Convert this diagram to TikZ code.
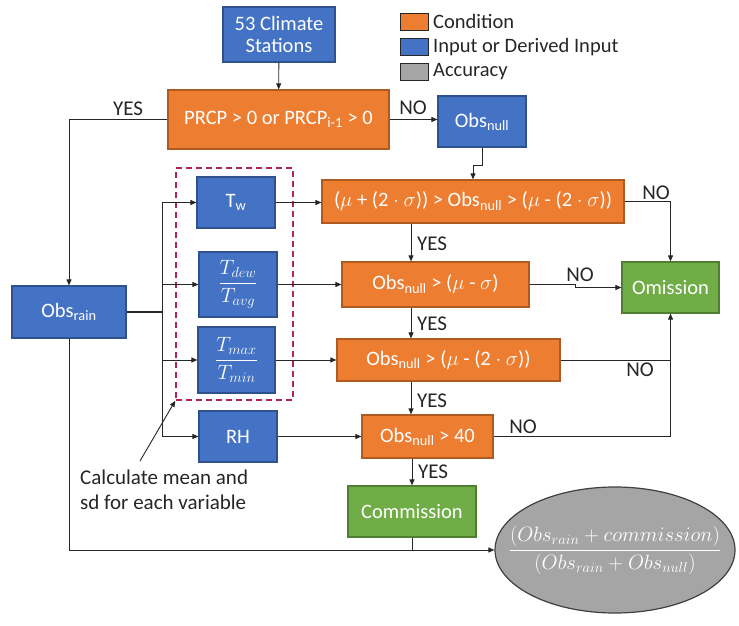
\documentclass[tikz,border=0pt]{standalone}
\usepackage{fontspec}
\setmainfont{Carlito}
\usetikzlibrary{arrows.meta,shapes.geometric}
\definecolor{cOr}{HTML}{ED7D31}
\definecolor{cOrB}{HTML}{AE5A21}
\definecolor{cBl}{HTML}{4472C4}
\definecolor{cBlB}{HTML}{2F528F}
\definecolor{cGr}{HTML}{70AD47}
\definecolor{cGrB}{HTML}{507E32}
\definecolor{cGy}{HTML}{A5A5A5}
\definecolor{cGyB}{HTML}{404040}
\definecolor{cTx}{HTML}{262626}
\definecolor{cDash}{HTML}{B0245A}
\tikzset{
  boxbase/.style={draw, line width=1.2pt, inner sep=0pt, align=center, text=white, font=\fontsize{20.5}{22}\selectfont},
  cond/.style={boxbase, fill=cOr, draw=cOrB},
  inp/.style={boxbase, fill=cBl, draw=cBlB},
  res/.style={boxbase, fill=cGr, draw=cGrB},
  ln/.style={draw=cTx, line width=0.9pt},
  arr/.style={ln, -{Triangle[length=6pt,width=5pt]}},
  lbl/.style={text=cTx, font=\fontsize{21}{24}\selectfont, inner sep=0pt},
}
\begin{document}
\begin{tikzpicture}[x=1pt,y=-1pt]
\useasboundingbox (0,0) rectangle (739,626);
% legend
\node[cond, draw=cTx, line width=0.8pt, minimum width=28pt, minimum height=17pt] (lg1) at (414,21.5) {};
\node[inp, draw=cTx, line width=0.8pt, minimum width=28pt, minimum height=17pt] (lg2) at (414,47) {};
\node[boxbase, fill=cGy, draw=cTx, line width=0.8pt, minimum width=28pt, minimum height=17pt] (lg3) at (414,71.5) {};
\node[lbl, anchor=west, font=\fontsize{20.5}{24}\selectfont] (lt1) at (433,21.5) {Condition};
\node[lbl, anchor=west, font=\fontsize{20.5}{24}\selectfont] (lt2) at (433,47) {Input or Derived Input};
\node[lbl, anchor=west, font=\fontsize{20.5}{24}\selectfont] (lt3) at (433,71.5) {Accuracy};
% nodes
\node[inp, minimum width=112pt, minimum height=55pt] (st) at (279,34.5) {53 Climate\\Stations};
\node[cond, minimum width=221pt, minimum height=59pt] (prcp) at (278.5,119.5) {PRCP > 0 or PRCP\textsubscript{i-1} > 0};
\node[inp, minimum width=88pt, minimum height=51pt] (null) at (482,121.5) {Obs\textsubscript{null}};
\node[cond, minimum width=302pt, minimum height=43pt] (c1) at (473,201.5) {($\mu$ + (2 $\cdot$ $\sigma$)) > Obs\textsubscript{null} > ($\mu$ - (2 $\cdot$ $\sigma$))};
\node[inp, minimum width=78pt, minimum height=51pt] (tw) at (236,202.5) {T\textsubscript{w}};
\node[cond, minimum width=187pt, minimum height=45pt] (c2) at (435.5,284.5) {Obs\textsubscript{null} > ($\mu$ - $\sigma$)};
\node[inp, minimum width=78pt, minimum height=65pt, font=\fontsize{22}{24}\selectfont] (tdew) at (238,284.5) {$\displaystyle\frac{T_{dew}}{T_{avg}}$};
\node[res, minimum width=97pt, minimum height=51pt] (om) at (670.5,287.5) {Omission};
\node[cond, minimum width=223pt, minimum height=42pt] (c3) at (448.5,360) {Obs\textsubscript{null} > ($\mu$ - (2 $\cdot$ $\sigma$))};
\node[inp, minimum width=77pt, minimum height=66pt, font=\fontsize{22}{24}\selectfont] (tmax) at (236.5,360) {$\displaystyle\frac{T_{max}}{T_{min}}$};
\node[cond, minimum width=131pt, minimum height=43pt] (c4) at (427.5,436.5) {Obs\textsubscript{null} > 40};
\node[inp, minimum width=78pt, minimum height=51pt] (rh) at (238,436.5) {RH};
\node[res, minimum width=128pt, minimum height=51pt] (com) at (412,511.5) {Commission};
\node[boxbase, ellipse, fill=cGy, draw=cGyB, minimum width=240pt, minimum height=126pt] (acc) at (615,550) {};
\node[text=white, inner sep=0pt, font=\fontsize{22.5}{24}\selectfont] (acct) at (acc.center) {$\displaystyle\frac{(Obs_{rain} + commission)}{(Obs_{rain} + Obs_{null})}$};
\node[inp, minimum width=114pt, minimum height=52pt] (rain) at (69,312) {Obs\textsubscript{rain}};
\node[draw=cDash, line width=1.5pt, dash pattern=on 6pt off 4pt, minimum width=117pt, minimum height=232pt, inner sep=0pt] (grp) at (234.5,284) {};
% coordinates
\coordinate (j0) at (162,312);
\coordinate (k1) at (473,165);
\coordinate (k2a) at (575,284.5);
\coordinate (k2b) at (575,287.5);
\coordinate (ns) at (140,461);
% connectors
\draw[arr] (st) -- (prcp);
\draw[arr] (prcp.west) -| (rain.north);
\node[lbl] (yes0) at (128,109) {YES};
\draw[arr] (prcp.east) -- (prcp.east -| null.west);
\node[lbl] (no0) at (413,108) {NO};
\draw[arr] (null.south) |- (k1) -- (c1.north);
\draw[ln, line width=1.6pt] (rain.east) -- (j0);
\draw[ln] (tw.west -| j0) -- (rh.west -| j0);
\draw[arr] (tw.west -| j0) -- (tw.west);
\draw[arr] (tdew.west -| j0) -- (tdew.west);
\draw[arr] (tmax.west -| j0) -- (tmax.west);
\draw[arr] (rh.west -| j0) -- (rh.west);
\draw[arr] (tw.east) -- (tw.east -| c1.west);
\draw[arr] (tdew.east) -- (c2.west);
\draw[arr] (tmax.east) -- (tmax.east -| c3.west);
\draw[arr] (rh.east) -- (c4.west);
\draw[arr] (c1.south -| 411,0) -- (c2.north -| 411,0);
\node[lbl] (yes1) at (432,244) {YES};
\draw[arr] (c2.south -| 411,0) -- (c3.north -| 411,0);
\node[lbl] (yes2) at (432,324) {YES};
\draw[arr] (c3.south -| 411,0) -- (c4.north -| 411,0);
\node[lbl] (yes3) at (432,401) {YES};
\draw[arr] (c4.south -| 412,0) -- (com.north -| 412,0);
\node[lbl] (yes4) at (433,472) {YES};
\draw[arr] (c1.east) -| (om.north);
\node[lbl] (no1) at (656,193) {NO};
\draw[arr] (c2.east) -- (k2a) -- (k2b) -- (om.west);
\node[lbl] (no2) at (580,275) {NO};
\draw[ln] (c3.east) -- (c3.east -| om.south);
\node[lbl] (no3) at (640,370) {NO};
\draw[arr] (c4.east) -| (om.south);
\node[lbl] (no4) at (523,427) {NO};
\draw[arr] (rain.south) |- (acc.west);
\draw[ln] (com.south) -- (com.south |- acc.west);
% annotation
\node[lbl, anchor=north west, align=left, font=\fontsize{21}{25}\selectfont] (note) at (80,470) {Calculate mean and\\sd for each variable};
\draw[arr] (ns) -- (grp.south west);
\end{tikzpicture}
\end{document}
